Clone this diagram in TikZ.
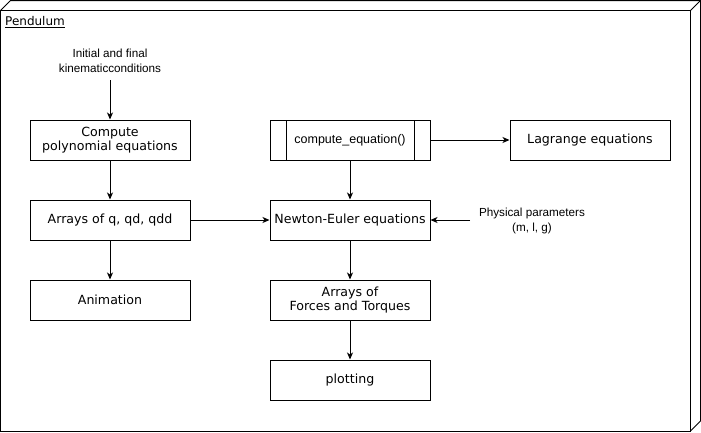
\documentclass[tikz,border=0pt]{standalone}
\usepackage{fontspec}
\setmainfont{Liberation Sans}
\newfontfamily\boxfont{DejaVu Sans}
\usetikzlibrary{arrows.meta}
\begin{document}
\begin{tikzpicture}[x=1pt,y=-1pt,
  box/.style={draw,line width=1pt,minimum width=160pt,minimum height=40pt,inner sep=0pt,align=center,font=\boxfont\fontsize{12.6}{14.5}\selectfont},
  lbl/.style={inner sep=0pt,align=center,font=\fontsize{11.7}{15.5}\selectfont},
  arr/.style={line width=1pt,-{Stealth[length=7pt,width=6pt,inset=2pt]}},
  frame/.style={line width=1pt}]
\useasboundingbox (0,0) rectangle (701,432);
% 3D node frame
\draw[frame] (0.5,10.5) rectangle (690.5,431);
\draw[frame] (0.5,10.5) -- (10.5,0.5) -- (700.5,0.5) -- (700.5,421) -- (690.5,431);
\draw[frame] (690.5,10.5) -- (700.5,0.5);
\node[anchor=west,inner sep=0pt,font=\boxfont\fontsize{12}{14}\selectfont] (title) at (5,22) {\underline{Pendulum}};
% nodes
\node[lbl] (init) at (110,61) {Initial and final\\kinematicconditions};
\node[box] (poly) at (110,140) {Compute\\polynomial equations};
\node[box] (arr) at (110,220) {Arrays of q, qd, qdd};
\node[box] (anim) at (110,300) {Animation};
\node[box,font=\fontsize{12.5}{14}\selectfont] (ce) at (350,140) {compute\_equation()};
\draw[line width=1pt] (286,120) -- (286,160) (414,120) -- (414,160);
\node[box] (lag) at (590,140) {Lagrange equations};
\node[box] (ne) at (350,220) {Newton-Euler equations};
\node[box] (ft) at (350,300) {Arrays of\\Forces and Torques};
\node[box] (plot) at (350,380) {plotting};
\node[lbl] (phys) at (532,221) {Physical parameters\\(m, l, g)};
\coordinate (initb) at (110,80);
\coordinate (physl) at (470,220);
% connectors
\draw[arr] (initb) -- (poly);
\draw[arr] (poly) -- (arr);
\draw[arr] (arr) -- (anim);
\draw[arr] (arr) -- (ne);
\draw[arr] (ce) -- (ne);
\draw[arr] (ce) -- (lag);
\draw[arr] (physl) -- (ne);
\draw[arr] (ne) -- (ft);
\draw[arr] (ft) -- (plot);
\end{tikzpicture}
\end{document}
